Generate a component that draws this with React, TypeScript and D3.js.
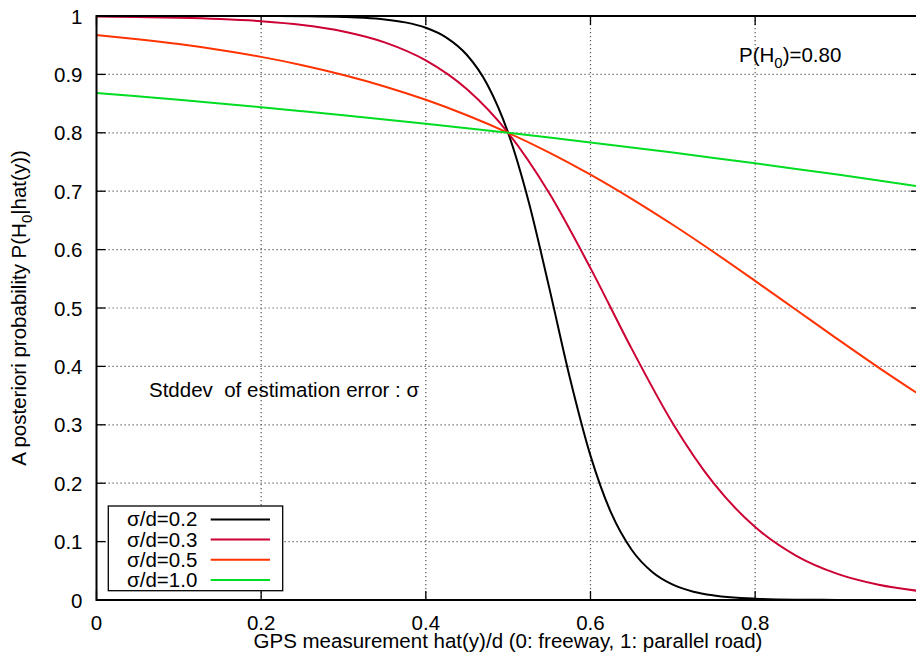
import React from "react";
import * as d3 from "d3";

const W = 916;
const H = 654;

const xTicks = [0, 0.2, 0.4, 0.6, 0.8, 1.0];
const yTicks = [0, 0.1, 0.2, 0.3, 0.4, 0.5, 0.6, 0.7, 0.8, 0.9, 1];
const yTickLabels = ["0", "0.1", "0.2", "0.3", "0.4", "0.5", "0.6", "0.7", "0.8", "0.9", "1"];
const xTickLabels = ["0", "0.2", "0.4", "0.6", "0.8"];

// sigma/d = 0.2
const x02 = [0, 0.1, 0.2, 0.25, 0.3, 0.325, 0.35, 0.375, 0.4, 0.425, 0.45, 0.475, 0.5, 0.525, 0.55, 0.575, 0.6, 0.625, 0.65, 0.675, 0.7, 0.725, 0.75, 0.8, 0.85, 0.9, 1.0];
const y02 = [1.0, 1.0, 0.9999, 0.9995, 0.9983, 0.9969, 0.9942, 0.9891, 0.9799, 0.9631, 0.9332, 0.882, 0.8, 0.6817, 0.534, 0.3802, 0.2472, 0.1495, 0.086, 0.0479, 0.0262, 0.0142, 0.0077, 0.0022, 0.0006, 0.0002, 0.0];

// shared grid for the other series
const xStd = [0, 0.05, 0.1, 0.15, 0.2, 0.25, 0.3, 0.35, 0.4, 0.45, 0.5, 0.55, 0.6, 0.65, 0.7, 0.75, 0.8, 0.85, 0.9, 0.95, 1.0];
const y03 = [0.999, 0.9983, 0.9971, 0.9949, 0.9912, 0.9847, 0.9736, 0.9549, 0.924, 0.8746, 0.8, 0.6965, 0.5683, 0.4304, 0.3024, 0.1992, 0.1249, 0.0757, 0.0448, 0.0262, 0.0152];
const y05 = [0.9673, 0.9603, 0.952, 0.9419, 0.93, 0.9158, 0.899, 0.8794, 0.8565, 0.8301, 0.8, 0.7661, 0.7284, 0.687, 0.6425, 0.5954, 0.5464, 0.4966, 0.4468, 0.398, 0.3512];
const y10 = [0.8683, 0.8625, 0.8565, 0.8502, 0.8437, 0.837, 0.8301, 0.8229, 0.8155, 0.8079, 0.8, 0.7919, 0.7835, 0.7749, 0.7661, 0.757, 0.7477, 0.7381, 0.7284, 0.7184, 0.7081];

const seriesNames = ["σ/d=0.2", "σ/d=0.3", "σ/d=0.5", "σ/d=1.0"];
const seriesColors = ["#000000", "#cc0033", "#ff3300", "#00dd22"];

const FONT = "'Liberation Sans', Arial, sans-serif";

export default function App() {
  const left = 96.5;
  const right = 919.8;
  const top = 16;
  const bottom = 600;
  const x = d3.scaleLinear().domain([0, 1]).range([left, right]);
  const y = d3.scaleLinear().domain([0, 1]).range([bottom, top]);

  const series = [
    { xs: x02, ys: y02 },
    { xs: xStd, ys: y03 },
    { xs: xStd, ys: y05 },
    { xs: xStd, ys: y10 },
  ];

  const line = d3
    .line<[number, number]>()
    .x((d) => x(d[0]))
    .y((d) => y(d[1]))
    .curve(d3.curveMonotoneX);

  const fs = 20.5;
  const subFs = 15;
  const tickLen = 9;

  return (
    <>
      <style>{`body{margin:0}`}</style>
      <svg width={W} height={H} style={{ display: "block", background: "#fff" }} fontFamily={FONT}>
        <defs>
          <clipPath id="plotClip">
            <rect x={left} y={top} width={right - left} height={bottom - top} />
          </clipPath>
        </defs>
        {/* grid */}
        {xTicks.slice(1, -1).map((t) => (
          <line key={"gx" + t} x1={x(t)} x2={x(t)} y1={top} y2={bottom} stroke="#555" strokeWidth={1.2} strokeDasharray="1.2,2.8" />
        ))}
        {yTicks.slice(1, -1).map((t) => (
          <line key={"gy" + t} x1={left} x2={right} y1={y(t)} y2={y(t)} stroke="#555" strokeWidth={1.2} strokeDasharray="1.2,2.8" />
        ))}
        {/* ticks */}
        {xTicks.map((t) => (
          <g key={"tx" + t}>
            <line x1={x(t)} x2={x(t)} y1={bottom} y2={bottom - tickLen} stroke="#000" strokeWidth={1.3} />
            <line x1={x(t)} x2={x(t)} y1={top} y2={top + tickLen} stroke="#000" strokeWidth={1.3} />
          </g>
        ))}
        {yTicks.map((t) => (
          <g key={"ty" + t}>
            <line x1={left} x2={left + tickLen} y1={y(t)} y2={y(t)} stroke="#000" strokeWidth={1.3} />
            <line x1={right} x2={right - tickLen} y1={y(t)} y2={y(t)} stroke="#000" strokeWidth={1.3} />
          </g>
        ))}
        {/* tick labels */}
        {xTickLabels.map((lab, i) => (
          <text key={"lx" + i} x={x(xTicks[i])} y={630} fontSize={fs} textAnchor="middle" fill="#000">
            {lab}
          </text>
        ))}
        {yTicks.map((t, i) => (
          <text key={"ly" + t} x={82.5} y={y(t) + 7.5} fontSize={fs} textAnchor="end" fill="#000">
            {yTickLabels[i]}
          </text>
        ))}
        {/* curves */}
        <g clipPath="url(#plotClip)">
          {series.map((s, i) => (
            <path
              key={"s" + i}
              d={line(s.xs.map((xv, j) => [xv, s.ys[j]] as [number, number])) || ""}
              fill="none"
              stroke={seriesColors[i]}
              strokeWidth={2}
            />
          ))}
        </g>
        {/* border */}
        <rect x={left} y={top} width={right - left} height={bottom - top} fill="none" stroke="#000" strokeWidth={2} />
        {/* annotations */}
        <text x={739} y={62} fontSize={fs} fill="#000">
          P(H<tspan fontSize={subFs} dy={6}>0</tspan>
          <tspan dy={-6}>)=0.80</tspan>
        </text>
        <text x={149} y={397} fontSize={fs} fill="#000" xmlSpace="preserve">
          {"Stddev  of estimation error : σ"}
        </text>
        {/* legend */}
        <rect x={108.3} y={506} width={174.4} height={84.7} fill="#fff" stroke="#000" strokeWidth={1.3} />
        {seriesNames.map((n, i) => {
          const cy = 519.4 + i * 20.2;
          return (
            <g key={"lg" + i}>
              <text x={197.3} y={cy + 7} fontSize={fs} textAnchor="end" fill="#000">
                {n}
              </text>
              <line x1={210.7} x2={270} y1={cy} y2={cy} stroke={seriesColors[i]} strokeWidth={2} />
            </g>
          );
        })}
        {/* axis labels */}
        <text x={508} y={648} fontSize={fs} textAnchor="middle" fill="#000">
          GPS measurement hat(y)/d (0: freeway, 1: parallel road)
        </text>
        <text transform={`translate(26,308) rotate(-90)`} fontSize={fs} textAnchor="middle" fill="#000">
          A posteriori probability P(H<tspan fontSize={subFs} dy={6}>0</tspan>
          <tspan dy={-6}>|hat(y))</tspan>
        </text>
      </svg>
    </>
  );
}
